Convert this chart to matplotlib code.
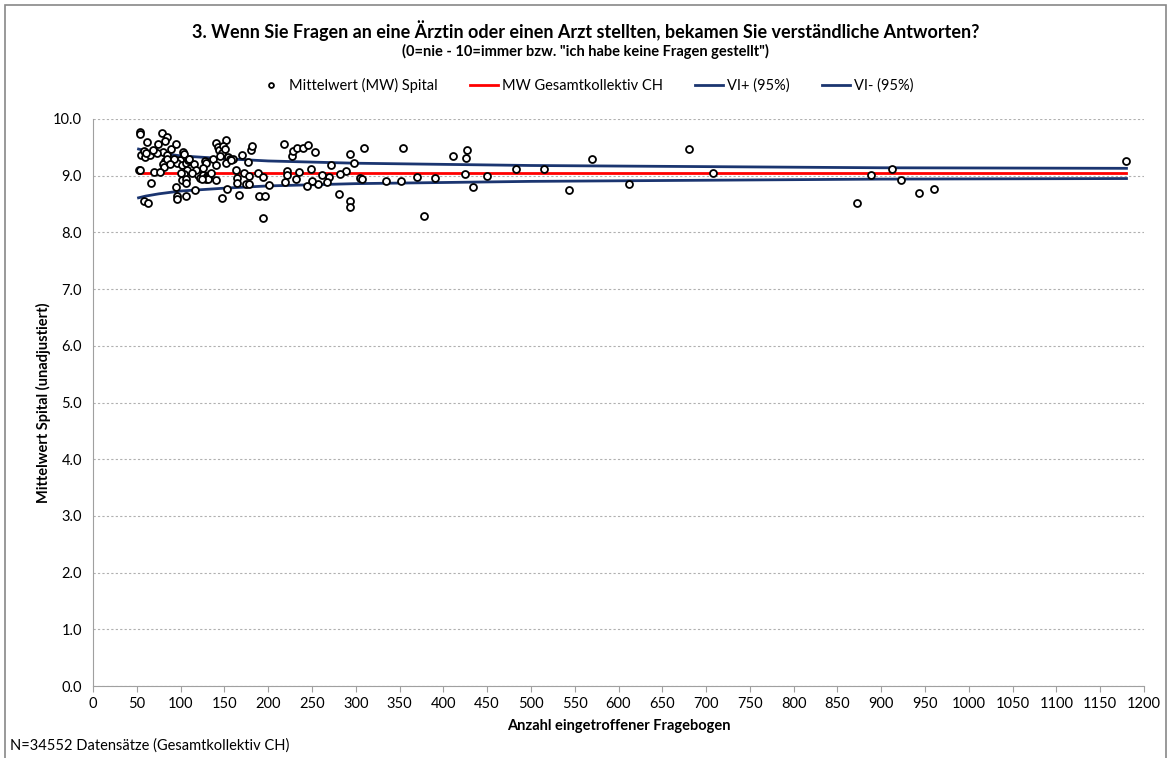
import numpy as np
import matplotlib
matplotlib.use("Agg")
from matplotlib import pyplot as plt
from matplotlib.patches import Rectangle

plt.rcParams['font.family'] = ['Lato', 'DejaVu Sans']

# Spitaeler: Anzahl Frageboegen / Mittelwert
anzahl = [54, 54, 52, 54, 62, 55, 59, 58, 65, 70, 74, 79, 84, 82, 80, 85, 89, 95,
          82, 80, 85, 81, 70, 76, 66, 58, 63, 95, 96, 96, 106, 116, 94, 99, 96,
          103, 104, 102, 106, 108, 111, 107, 104, 102, 106, 106, 115, 120, 122,
          126, 130, 128, 129, 126, 137, 141, 143, 144, 147, 152, 149, 151, 154,
          156, 152, 160, 141, 133, 131, 129, 131, 140, 163, 164, 164, 147, 153,
          167, 170, 172, 178, 175, 178, 177, 180, 182, 188, 190, 196, 194, 201,
          194, 110, 118, 124, 135, 158, 145, 113, 100, 92, 88, 73, 68, 60,
          218, 227, 228, 233, 240, 245, 253, 293, 309, 354, 411, 427, 426, 425,
          434, 450, 378, 390, 370, 352, 335, 305, 307, 298, 294, 293, 281, 289,
          282, 272, 270, 267, 261, 257, 250, 249, 244, 235, 232, 221, 221, 219,
          483, 515, 543, 570, 612, 680, 708, 872, 888, 912, 923, 943, 960, 1180]
mittelwert = [9.77, 9.73, 9.10, 9.10, 9.59, 9.37, 9.33, 9.44, 9.37, 9.44, 9.56, 9.75,
              9.68, 9.61, 9.42, 9.37, 9.47, 9.56, 9.26, 9.20, 9.29, 9.15, 9.07, 9.07,
              8.87, 8.55, 8.52, 8.80, 8.64, 8.59, 8.64, 8.75, 9.28, 9.28, 9.22, 9.42,
              9.38, 9.19, 9.22, 9.28, 9.14, 9.10, 9.03, 8.92, 8.94, 8.87, 9.20, 9.01,
              8.96, 9.01, 8.99, 9.26, 9.22, 9.14, 9.29, 9.58, 9.51, 9.45, 9.40, 9.63,
              9.52, 9.47, 9.33, 9.29, 9.22, 9.29, 9.19, 9.01, 8.98, 8.94, 8.94, 8.92,
              9.10, 8.96, 8.87, 8.60, 8.76, 8.66, 9.37, 9.05, 9.00, 8.85, 8.85, 9.24,
              9.45, 9.52, 9.05, 8.64, 8.64, 8.25, 8.84, 8.98, 9.30, 9.10, 8.95, 9.05,
              9.28, 9.35, 9.05, 9.05, 9.30, 9.20, 9.40, 9.45, 9.40,
              9.56, 9.35, 9.44, 9.49, 9.49, 9.54, 9.42, 9.38, 9.49, 9.49, 9.35, 9.45,
              9.32, 9.03, 8.80, 8.99, 8.29, 8.96, 8.98, 8.90, 8.90, 8.96, 8.94, 9.22,
              8.55, 8.45, 8.68, 9.08, 9.03, 9.18, 8.98, 8.89, 9.01, 8.85, 8.90, 9.12,
              8.82, 9.06, 8.94, 9.08, 9.01, 8.89,
              9.12, 9.12, 8.75, 9.30, 8.86, 9.47, 9.045, 8.52, 9.01, 9.12, 8.93, 8.70,
              8.76, 9.26]

# Gesamtmittelwert CH
mw_x = [52, 1180]
mw_y = [9.04, 9.04]

# Vertrauensintervall (95%)
vi_x = [52, 60, 75, 100, 150, 200, 300, 400, 500, 700, 900, 1180]
vi_plus = [9.47, 9.44, 9.40, 9.35, 9.30, 9.26, 9.22, 9.20, 9.18, 9.16, 9.14, 9.13]
vi_minus = [8.61, 8.64, 8.68, 8.73, 8.78, 8.82, 8.86, 8.88, 8.90, 8.92, 8.94, 8.95]

fig = plt.figure(figsize=(11.71, 7.58), dpi=100)
ax = fig.add_axes([93/1171, 1-686/758, (1144-93)/1171, (686-119)/758])

ax.plot(anzahl, mittelwert, 'o', ms=5.0, mfc='white', mec='black', mew=1.3,
        label='Mittelwert (MW) Spital', zorder=4)
ax.plot(mw_x, mw_y, '-', color='#FF0000', lw=2, label='MW Gesamtkollektiv CH', zorder=3)
ax.plot(vi_x, vi_plus, '-', color='#1B3570', lw=2, label='VI+ (95%)', zorder=3)
ax.plot(vi_x, vi_minus, '-', color='#1B3570', lw=2, label='VI- (95%)', zorder=3)

ax.set_xlim(0, 1200)
ax.set_ylim(0, 10)
ax.set_xticks(np.arange(0, 1201, 50))
ax.set_yticks(np.arange(0, 10.1, 1))
ax.set_yticklabels(['%.1f' % v for v in np.arange(0, 10.1, 1)])
ax.tick_params(axis='x', direction='out', length=4, color='#A0A0A0', labelsize=10.5, pad=4)
ax.tick_params(axis='y', length=0, labelsize=10.5, pad=8)
ax.yaxis.grid(True, linestyle=(0, (2, 2)), color='#B0B0B0', lw=0.8)
ax.set_axisbelow(True)
for s in ['top', 'right']:
    ax.spines[s].set_visible(False)
for s in ['left', 'bottom']:
    ax.spines[s].set_color('#A0A0A0')

ax.set_xlabel('Anzahl eingetroffener Fragebogen', fontsize=10.5, fontweight='bold', labelpad=6)
ax.set_ylabel('Mittelwert Spital (unadjustiert)', fontsize=10.5, fontweight='bold', labelpad=1)

fig.text(0.5, 0.960, '3. Wenn Sie Fragen an eine Ärztin oder einen Arzt stellten, bekamen Sie verständliche Antworten?',
         ha='center', va='center', fontsize=13, fontweight='bold')
fig.text(0.5, 0.932, '(0=nie - 10=immer bzw. "ich habe keine Fragen gestellt")',
         ha='center', va='center', fontsize=10.5, fontweight='bold')

fig.legend(loc='center', bbox_to_anchor=(0.5, 0.887), ncol=4, frameon=False,
           fontsize=10.5, handlelength=1.9, columnspacing=2.2, handletextpad=0.3,
           markerscale=0.7)

fig.text(10/1171, 0.017, 'N=34552 Datensätze (Gesamtkollektiv CH)', ha='left', va='center', fontsize=10.5)

fig.patches.append(Rectangle((0.004, -0.01), 0.992, 1.004, transform=fig.transFigure,
                             fill=False, edgecolor='#888888', lw=1.2))

fig.savefig('out.png', dpi=100)
